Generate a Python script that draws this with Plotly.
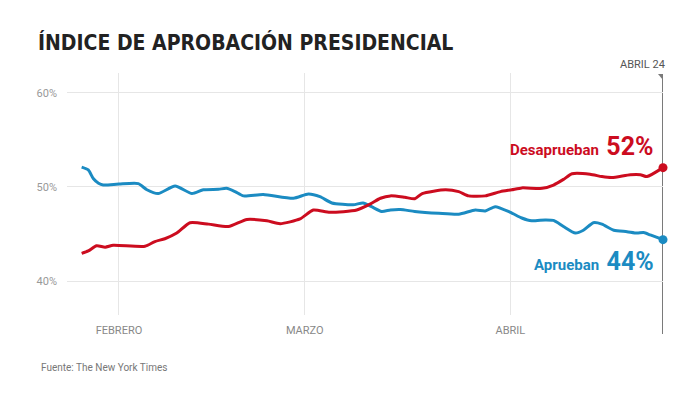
import plotly.graph_objects as go

# ---- data ----
aprueban_dates = [
    "2017-01-26 09:00", "2017-01-27 09:00", "2017-01-28 03:00", "2017-01-28 22:00",
    "2017-01-29 15:00", "2017-02-01", "2017-02-03 22:00", "2017-02-05 05:00",
    "2017-02-06 22:00", "2017-02-09 11:00", "2017-02-12", "2017-02-13 17:00",
    "2017-02-16", "2017-02-17 05:00", "2017-02-18 12:00", "2017-02-19 18:00",
    "2017-02-22 18:00", "2017-02-27 07:00", "2017-03-01 13:00", "2017-03-03 07:00",
    "2017-03-05 02:00", "2017-03-08 07:00", "2017-03-09 19:00", "2017-03-11 02:00",
    "2017-03-12 14:00", "2017-03-13 22:00", "2017-03-15 10:00", "2017-03-17 14:00",
    "2017-03-21 05:00", "2017-03-24 05:00", "2017-03-26 17:00", "2017-03-28 05:00",
    "2017-03-29 17:00", "2017-04-01", "2017-04-02 17:00", "2017-04-04 05:00",
    "2017-04-06 06:00", "2017-04-07 12:00", "2017-04-09", "2017-04-10 19:00",
    "2017-04-12", "2017-04-13 12:00", "2017-04-14 19:00", "2017-04-16 14:00",
    "2017-04-18 14:00", "2017-04-20 02:00", "2017-04-21 02:00", "2017-04-22 02:00",
    "2017-04-24",
]
aprueban_vals = [
    52.1, 51.8, 50.9, 50.4,
    50.2, 50.3, 50.35, 49.7,
    49.3, 50.1, 49.3, 49.7,
    49.75, 49.85, 49.5, 49.05,
    49.2, 48.8, 49.25, 48.97,
    48.3, 48.1, 48.3, 47.9,
    47.4, 47.55, 47.6, 47.4,
    47.2, 47.1, 47.55, 47.45,
    47.9, 47.3, 46.7, 46.4,
    46.5, 46.45, 45.8, 45.1,
    45.4, 46.2, 46.05, 45.4,
    45.25, 45.1, 45.15, 44.9,
    44.4,
]

desaprueban_dates = [
    "2017-01-26 09:00", "2017-01-27 09:00", "2017-01-28 15:00", "2017-01-29 22:00",
    "2017-01-31 03:00", "2017-02-04 22:00", "2017-02-06 10:00", "2017-02-07 22:00",
    "2017-02-09 17:00", "2017-02-11 17:00", "2017-02-14 12:00", "2017-02-17 12:00",
    "2017-02-20 07:00", "2017-02-23 07:00", "2017-02-25 07:00", "2017-02-28 07:00",
    "2017-03-02 07:00", "2017-03-04 19:00", "2017-03-08 20:00", "2017-03-10 22:00",
    "2017-03-12 10:00", "2017-03-13 22:00", "2017-03-16 02:00", "2017-03-17 14:00",
    "2017-03-18 17:00", "2017-03-22 05:00", "2017-03-24 05:00", "2017-03-25 17:00",
    "2017-03-28 05:00", "2017-03-30 12:00", "2017-04-01 05:00", "2017-04-02 17:00",
    "2017-04-05 19:00", "2017-04-07 12:00", "2017-04-09", "2017-04-10 07:00",
    "2017-04-13", "2017-04-14 19:00", "2017-04-16 07:00", "2017-04-19 02:00",
    "2017-04-20 14:00", "2017-04-21 14:00", "2017-04-24",
]
desaprueban_vals = [
    42.95, 43.2, 43.75, 43.6,
    43.8, 43.7, 44.2, 44.5,
    45.1, 46.2, 46.05, 45.8,
    46.55, 46.4, 46.1, 46.6,
    47.55, 47.3, 47.55, 48.2,
    48.8, 49.05, 48.9, 48.75,
    49.3, 49.7, 49.5, 49.05,
    49.05, 49.5, 49.7, 49.9,
    49.85, 50.2, 50.8, 51.4,
    51.35, 51.1, 51.0, 51.3,
    51.3, 51.1, 52.05,
]

month_ticks = ["2017-02-01", "2017-03-01", "2017-04-01"]
month_labels = ["FEBRERO", "MARZO", "ABRIL"]
y_ticks = [40, 50, 60]
y_labels = [f"{v}%" for v in y_ticks]
end_label = "ABRIL 24"

RED = "#cc0c1f"
BLUE = "#1b8bc2"
FONT = "Roboto"
TITLE_FONT = "Liberation Sans Narrow, DejaVu Sans Condensed, Roboto"

x_start = "2017-01-24 04:00"
x_end = aprueban_dates[-1]

fig = go.Figure()
fig.add_trace(go.Scatter(x=aprueban_dates, y=aprueban_vals, mode="lines",
                         line=dict(color=BLUE, width=3, shape="spline", smoothing=0.6),
                         hoverinfo="skip", cliponaxis=False))
fig.add_trace(go.Scatter(x=desaprueban_dates, y=desaprueban_vals, mode="lines",
                         line=dict(color=RED, width=3, shape="spline", smoothing=0.6),
                         hoverinfo="skip", cliponaxis=False))
fig.add_trace(go.Scatter(x=[aprueban_dates[-1], desaprueban_dates[-1]],
                         y=[aprueban_vals[-1], desaprueban_vals[-1]],
                         mode="markers", marker=dict(color=[BLUE, RED], size=9),
                         hoverinfo="skip", cliponaxis=False))

# vertical "today" line and triangle
fig.add_shape(type="line", xref="x", yref="paper", x0=x_end, x1=x_end,
              y0=-0.078, y1=0.975, line=dict(color="#7a7a7a", width=2), layer="below")
fig.add_shape(type="path", xref="x", yref="paper", xsizemode="pixel", ysizemode="pixel",
              xanchor=x_end, yanchor=1.0, path="M-5,-1 L5,-1 L0,-7 Z",
              fillcolor="#7a7a7a", line=dict(width=0))

fig.add_annotation(x=x_end, xref="x", y=1.0, yref="paper", yshift=0,
                   text=end_label, showarrow=False, xanchor="right", xshift=4,
                   yanchor="bottom", font=dict(family=FONT, size=11, color="#555555"))

def end_label_text(word, val):
    return f"<b>{word}</b>&nbsp;&nbsp;<span style='font-size:25px'><b>{round(val)}%</b></span>"

fig.add_annotation(x=x_end, xref="x", y=desaprueban_vals[-1], yref="y",
                   text=end_label_text("Desaprueban", desaprueban_vals[-1]),
                   showarrow=False, xanchor="right", yanchor="middle", xshift=-7, yshift=21,
                   font=dict(family=FONT, size=15, color=RED))
fig.add_annotation(x=x_end, xref="x", y=aprueban_vals[-1], yref="y",
                   text=end_label_text("Aprueban", aprueban_vals[-1]),
                   showarrow=False, xanchor="right", yanchor="middle", xshift=-7, yshift=-22,
                   font=dict(family=FONT, size=15, color=BLUE))

fig.add_annotation(x=0, xref="paper", y=0, yref="paper", xanchor="left", yanchor="top",
                   text="Fuente: The New York Times", showarrow=False,
                   xshift=-28, yshift=-45, font=dict(family=FONT, size=10, color="#777777"))

fig.update_layout(
    width=700, height=394,
    margin=dict(l=67, r=37, t=73, b=79, autoexpand=False),
    paper_bgcolor="white", plot_bgcolor="white",
    showlegend=False,
    title=dict(text="<b>ÍNDICE DE APROBACIÓN PRESIDENCIAL</b>", x=0, xref="paper",
               xanchor="left", y=0.893, yanchor="middle",
               font=dict(family=TITLE_FONT, size=21, color="#222222"), pad=dict(l=-29)),
    xaxis=dict(type="date", range=[x_start, x_end], tickvals=month_ticks, ticktext=month_labels,
               showgrid=True, gridcolor="#e6e6e6", gridwidth=1, zeroline=False, showline=False,
               ticks="", ticklabelstandoff=7, automargin=False,
               tickfont=dict(family=FONT, size=11, color="#888888")),
    yaxis=dict(range=[36.4, 62.1], tickvals=y_ticks, ticktext=y_labels,
               showgrid=True, gridcolor="#e6e6e6", gridwidth=1, zeroline=False, showline=False,
               ticks="", ticklabelstandoff=9, automargin=False,
               tickfont=dict(family=FONT, size=11, color="#999999")),
)

fig.write_html("out.html", config={"displayModeBar": False},
               post_script="document.body.style.margin='0';")
